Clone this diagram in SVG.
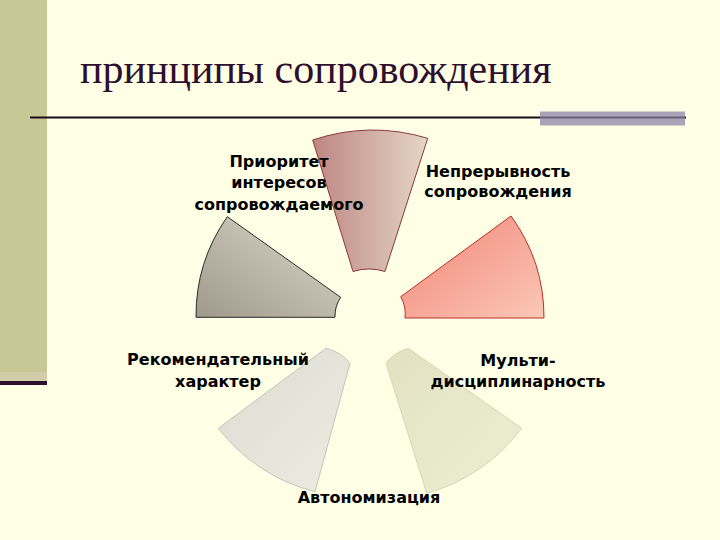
<svg xmlns="http://www.w3.org/2000/svg" width="720" height="540" viewBox="0 0 720 540">
<defs>
<linearGradient id="gTop" x1="0" y1="0" x2="1" y2="0"><stop offset="0" stop-color="#BE8682"/><stop offset="1" stop-color="#E4D6C6"/></linearGradient>
<linearGradient id="gUR" x1="0" y1="0" x2="1" y2="1"><stop offset="0" stop-color="#F28478"/><stop offset="1" stop-color="#FBC8B6"/></linearGradient>
<linearGradient id="gUL" x1="0" y1="1" x2="1" y2="0"><stop offset="0" stop-color="#9E9A8C"/><stop offset="1" stop-color="#DCDACB"/></linearGradient>
<linearGradient id="gBL" x1="0" y1="0" x2="1" y2="1"><stop offset="0" stop-color="#DCDCD2"/><stop offset="1" stop-color="#ECECE2"/></linearGradient>
<linearGradient id="gLR" x1="0" y1="0" x2="1" y2="1"><stop offset="0" stop-color="#E2E2C2"/><stop offset="1" stop-color="#EDEDD4"/></linearGradient>
</defs>
<style>
.lbl{font-family:"DejaVu Sans","Verdana",sans-serif;font-weight:bold;font-size:16px;fill:#000;text-anchor:middle}
.title{font-family:"Liberation Serif","Times New Roman",serif;font-size:42px;fill:#2E0F2E}
</style>
<rect width="720" height="540" fill="#FFFFE6"/>
<rect x="0" y="0" width="47" height="372" fill="#C8C896"/>
<rect x="0" y="372" width="47" height="9" fill="#D2CCA8"/>
<rect x="0" y="381" width="47" height="4" fill="#2E0F2E"/>
<text class="title" x="80" y="83">принципы сопровождения</text>
<rect x="30" y="116.5" width="656" height="2" fill="#1A0A1A"/>
<rect x="540" y="111.5" width="145" height="14" fill="#ABA4B8"/>
<rect x="540" y="116.5" width="145" height="2" fill="#6A6078"/>

<g id="node-priority">
<path d="M312.7,140 A190,190 0 0 1 427.7,138.3 L385,271.5 A53,53 0 0 0 353,271.5 Z" fill="url(#gTop)" stroke="#8A3A36" stroke-width="1"/>
<text class="lbl" x="279" y="167">Приоритет</text>
<text class="lbl" x="279" y="188">интересов</text>
<text class="lbl" x="279" y="210">сопровождаемого</text>
</g>
<g id="node-continuity">
<path d="M405,318 L544,318 A173,173 0 0 0 511,216 L400.7,296.7 A35,35 0 0 1 405,318 Z" fill="url(#gUR)" stroke="#B8302A" stroke-width="1"/>
<text class="lbl" x="498" y="177">Непрерывность</text>
<text class="lbl" x="498" y="197">сопровождения</text>
</g>
<g id="node-multi">
<path d="M386,363.3 L426.7,493.3 A178,178 0 0 0 521.7,428.3 L408.3,348.3 A41,41 0 0 0 386,363.3 Z" fill="url(#gLR)" stroke="#D6D6B6" stroke-width="1"/>
<text class="lbl" x="518" y="366">Мульти-</text>
<text class="lbl" x="518" y="387">дисциплинарность</text>
</g>
<g id="node-autonomy">
<text class="lbl" x="369" y="503">Автономизация</text>
</g>
<g id="node-recommend">
<path d="M350,363.3 L315,491.7 A177,177 0 0 1 218.3,428.3 L326,348.3 A43,43 0 0 1 350,363.3 Z" fill="url(#gBL)" stroke="#C4C4BA" stroke-width="1"/>
<text class="lbl" x="218" y="365">Рекомендательный</text>
<text class="lbl" x="218" y="387">характер</text>
</g>
<g id="node-ul">
<path d="M335,317.3 L196,317.3 A173,173 0 0 1 227.3,216.7 L340.7,297.3 A34,34 0 0 0 335,317.3 Z" fill="url(#gUL)" stroke="#2A2A2A" stroke-width="1"/>
</g>
</svg>
